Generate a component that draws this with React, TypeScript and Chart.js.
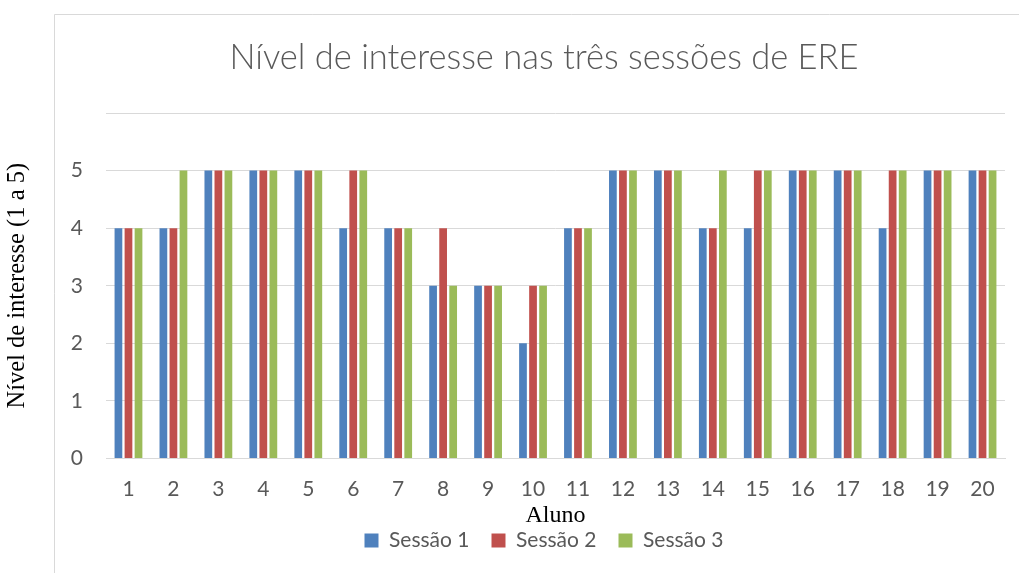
import React, { useEffect, useRef } from "react";
import { Chart, registerables } from "chart.js";

Chart.register(...registerables);

const alunos = ["1","2","3","4","5","6","7","8","9","10","11","12","13","14","15","16","17","18","19","20"];
const sessao1 = [4,4,5,5,5,4,4,3,3,2,4,5,5,4,4,5,5,4,5,5];
const sessao2 = [4,4,5,5,5,5,4,4,3,3,4,5,5,4,5,5,5,5,5,5];
const sessao3 = [4,5,5,5,5,5,4,3,3,3,4,5,5,5,5,5,5,5,5,5];
const seriesNames = ["Sessão 1", "Sessão 2", "Sessão 3"];
const seriesColors = ["#4F81BD", "#C0504D", "#9BBB59"];
const titleText = "Nível de interesse nas três sessões de ERE";
const yTitle = "Nível de interesse (1 a 5)";
const xTitle = "Aluno";

const SANS = "Lato, 'Open Sans', sans-serif";
const SERIF = "'Liberation Serif', 'DejaVu Serif', serif";

const frame = {
  id: "frame",
  beforeDraw(chart: any) {
    const ctx = chart.ctx;
    ctx.save();
    ctx.fillStyle = "#ffffff";
    ctx.fillRect(0, 0, chart.width, chart.height);
    ctx.strokeStyle = "#d9d9d9";
    ctx.lineWidth = 1;
    ctx.beginPath();
    ctx.moveTo(54.5, chart.height);
    ctx.lineTo(54.5, 14.5);
    ctx.lineTo(chart.width, 14.5);
    ctx.stroke();
    ctx.restore();
  },
};

export default function App() {
  const ref = useRef<HTMLCanvasElement>(null);
  useEffect(() => {
    if (!ref.current) return;
    const data = [sessao1, sessao2, sessao3];
    const chart = new Chart(ref.current, {
      type: "bar",
      data: {
        labels: alunos,
        datasets: data.map((d, i) => ({
          label: seriesNames[i],
          data: d,
          backgroundColor: seriesColors[i],
          borderWidth: 0,
          barPercentage: 0.77,
          categoryPercentage: 0.67,
          yAxisID: "y",
        })),
      },
      options: {
        responsive: false,
        animation: false,
        layout: { padding: { top: 0, bottom: 12, left: 0, right: 0 } },
        plugins: {
          tooltip: { enabled: false },
          title: {
            display: true,
            text: titleText,
            color: "#595959",
            font: { family: SANS, size: 34.5, weight: "300", lineHeight: 1.2 },
            padding: { top: 37.3, bottom: 34.3 },
          },
          legend: {
            position: "bottom",
            labels: {
              color: "#595959",
              font: { family: SANS, size: 21 },
              boxWidth: 14,
              boxHeight: 14,
              padding: 22,
            },
          },
        },
        scales: {
          x: {
            grid: { display: false, drawTicks: false },
            border: { display: true, color: "#d9d9d9", width: 1 },
            ticks: { color: "#595959", font: { family: SANS, size: 21 }, padding: 18, maxRotation: 0, autoSkip: false },
            title: {
              display: true,
              text: xTitle,
              color: "#000000",
              font: { family: SERIF, size: 24, lineHeight: 1 },
              padding: { top: 0, bottom: -19.5 },
            },
            afterFit(s: any) { s.height = 49.5; },
          },
          y: {
            position: "left",
            min: 0,
            max: 6,
            grid: { color: "#d9d9d9", lineWidth: 1, drawTicks: false },
            border: { display: false },
            ticks: {
              stepSize: 1,
              color: "#595959",
              font: { family: SANS, size: 21 },
              padding: 23,
              callback: (v: any) => (v === 6 ? "" : String(v)),
            },
            title: {
              display: true,
              text: yTitle,
              color: "#000000",
              font: { family: SERIF, size: 24.5, lineHeight: 1 },
              padding: { top: 5, bottom: 0 },
            },
            afterFit(s: any) { s.width = 106; },
          },
          yR: {
            type: "linear",
            position: "right",
            display: true,
            grid: { display: false, drawTicks: false },
            border: { display: false },
            ticks: { display: false },
            afterFit(s: any) { s.width = 83; },
          },
        },
      } as any,
      plugins: [frame],
    });
    return () => chart.destroy();
  }, []);
  return (
    <div style={{ position: "fixed", left: 0, top: 0, width: 1019, height: 573, overflow: "hidden", background: "#fff" }}>
      <canvas ref={ref} width={1088} height={573} style={{ width: 1088, height: 573, display: "block" }} />
    </div>
  );
}
